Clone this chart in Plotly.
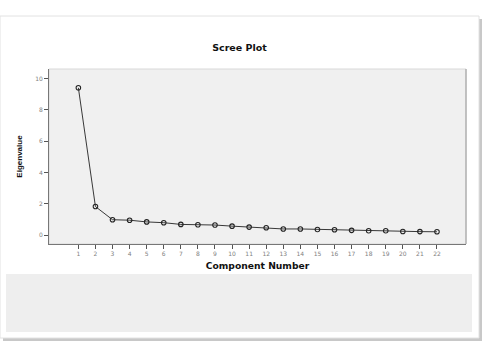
import plotly.graph_objects as go

components = list(range(1, 23))
eigenvalues = [9.40, 1.82, 0.98, 0.95, 0.84, 0.79, 0.68, 0.66, 0.64, 0.57, 0.51,
               0.47, 0.39, 0.39, 0.36, 0.34, 0.30, 0.28, 0.28, 0.23, 0.22, 0.21]
y_ticks = [0, 2, 4, 6, 8, 10]

W, H = 487, 354
L, R, T, B = 49, 466, 69, 244


def px(x):
    return (x - L) / (R - L)


def py(y):
    return (B - y) / (B - T)


fig = go.Figure()
fig.add_trace(go.Scatter(
    x=components, y=eigenvalues, mode="lines+markers",
    line=dict(color="#222222", width=0.9),
    marker=dict(symbol="circle-open", size=4.5, color="#222222", line=dict(width=1.1)),
    showlegend=False, hoverinfo="skip",
))

shapes = []
# card shadow
shapes.append(dict(type="rect", xref="paper", yref="paper", layer="below",
                   x0=px(479), x1=px(482), y0=py(341), y1=py(19),
                   line=dict(width=0), fillcolor="#c8c8c8"))
shapes.append(dict(type="rect", xref="paper", yref="paper", layer="below",
                   x0=px(3), x1=px(482), y0=py(341), y1=py(338),
                   line=dict(width=0), fillcolor="#c8c8c8"))
# card border
shapes.append(dict(type="rect", xref="paper", yref="paper", layer="below",
                   x0=px(0), x1=px(479), y0=py(338), y1=py(16),
                   line=dict(width=1, color="#e2e2e2"), fillcolor="rgba(0,0,0,0)"))
# bottom grey box
shapes.append(dict(type="rect", xref="paper", yref="paper", layer="below",
                   x0=px(6), x1=px(472), y0=py(332), y1=py(274),
                   line=dict(width=0), fillcolor="#eeeeee"))
# plot frame (light)
shapes.append(dict(type="rect", xref="paper", yref="paper", layer="below",
                   x0=0, x1=1, y0=0, y1=1,
                   line=dict(width=1, color="#d8d8d8"), fillcolor="rgba(0,0,0,0)"))
shapes.append(dict(type="line", xref="paper", yref="paper", layer="above",
                   x0=1, x1=1, y0=0, y1=1,
                   line=dict(width=1, color="#9a9a9a")))

fig.update_layout(
    width=W, height=H,
    margin=dict(l=L, r=W - R, t=T, b=H - B),
    paper_bgcolor="white", plot_bgcolor="#f0f0f0",
    font=dict(family="DejaVu Sans, Verdana", color="#222222"),
    title=dict(text="<b>Scree Plot</b>", x=px(239.5), xref="paper", xanchor="center",
               y=1 - 47.5 / H, yanchor="middle",
               font=dict(size=9.5, color="#111111", family="DejaVu Sans")),
    shapes=shapes,
    xaxis=dict(
        range=[-0.72, 23.7], tickmode="array", tickvals=components,
        ticktext=[str(c) for c in components],
        showgrid=False, zeroline=False, showline=True, linecolor="#777777", linewidth=1,
        ticks="outside", ticklen=4, tickcolor="#555555", tickwidth=1,
        tickfont=dict(size=6, color="#808080", family="DejaVu Sans"),
        title=dict(text="<b>Component Number</b>", standoff=6,
                   font=dict(size=9.2, color="#111111", family="DejaVu Sans")),
    ),
    yaxis=dict(
        range=[-0.57, 10.6], tickmode="array", tickvals=y_ticks,
        ticktext=[str(t) for t in y_ticks],
        showgrid=False, zeroline=False, showline=True, linecolor="#777777", linewidth=1,
        ticks="outside", ticklen=4, tickcolor="#555555", tickwidth=1,
        tickfont=dict(size=6, color="#808080", family="DejaVu Sans"),
        title=dict(text="<b>Eigenvalue</b>", standoff=11,
                   font=dict(size=8, color="#111111", family="Liberation Sans")),
    ),
)

fig.write_html("out.html")
